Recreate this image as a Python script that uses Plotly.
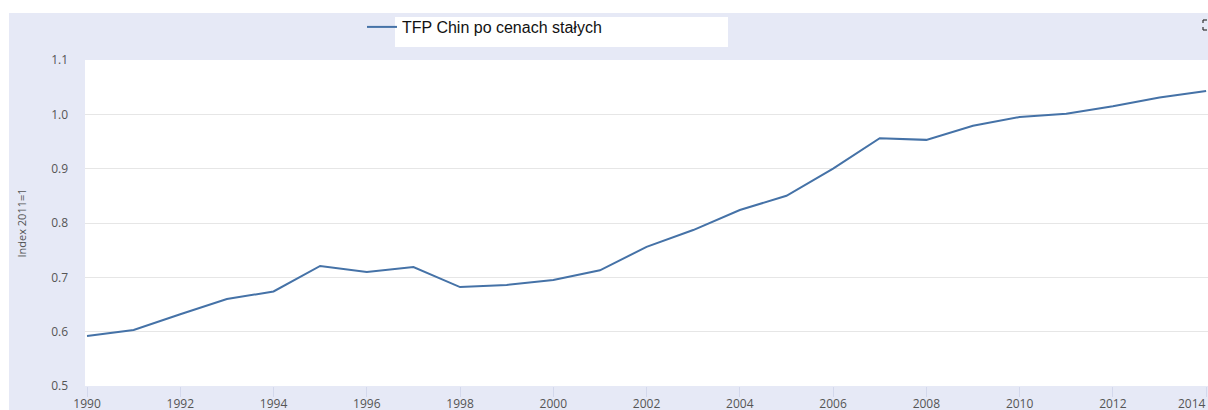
import plotly.graph_objects as go

years = list(range(1990, 2015))
tfp = [0.592, 0.603, 0.632, 0.660, 0.674, 0.721, 0.710, 0.719, 0.682, 0.686,
       0.695, 0.713, 0.756, 0.787, 0.824, 0.850, 0.900, 0.956, 0.953, 0.979,
       0.995, 1.001, 1.015, 1.031, 1.043]
series_name = "TFP Chin po cenach stałych"
y_title = "Index 2011=1"
x_ticks = years[::2]
y_ticks = [0.5, 0.6, 0.7, 0.8, 0.9, 1.0, 1.1]

W, H = 1208, 410
ML, MR, MT, MB = 85, 0, 60, 24
pw = W - ML - MR
ph = H - MT - MB

def px(X):
    return (X - ML) / pw

def py(Y):
    return (H - MB - Y) / ph

bg = "#E6E9F6"
tick_font = dict(family="Open Sans, sans-serif", size=12, color="#555555")

fig = go.Figure()
fig.add_trace(go.Scatter(x=years, y=tfp, mode="lines", name=series_name,
                         line=dict(color="#4572A7", width=2), showlegend=True))

def seg(x0, y0, x1, y1, color="#333333", w=1.2):
    return dict(type="line", xref="paper", yref="paper", x0=px(x0), y0=py(y0),
                x1=px(x1), y1=py(y1), line=dict(color=color, width=w))

shapes = [
    # white strip at the top and left edge
    dict(type="rect", xref="paper", yref="paper", x0=px(-5), x1=px(W + 5), y0=py(13), y1=py(-5),
         fillcolor="white", line=dict(width=0), layer="below"),
    dict(type="rect", xref="paper", yref="paper", x0=px(-5), x1=px(9), y0=py(H + 5), y1=py(-5),
         fillcolor="white", line=dict(width=0), layer="below"),
    # white legend label box
    dict(type="rect", xref="paper", yref="paper", x0=px(395), x1=px(728), y0=py(47), y1=py(17),
         fillcolor="white", line=dict(width=0), layer="below"),
    # tiny fullscreen icon at the top-right corner (partly cut off)
    seg(1203, 20, 1207, 20), seg(1203, 20, 1203, 23),
    seg(1203, 30, 1207, 30), seg(1203, 27, 1203, 30),
]

# last x tick label is pushed inside the chart (right-aligned to its tick)
last_tick = x_ticks[-1]
tick_text = [str(y) for y in x_ticks[:-1]] + [""]
annotations = [dict(x=last_tick, xref="x", y=py(H - 7), yref="paper", text=str(last_tick),
                    showarrow=False, xanchor="right", yanchor="middle", xshift=2,
                    font=tick_font)]

fig.update_layout(
    width=W, height=H,
    margin=dict(l=ML, r=MR, t=MT, b=MB, pad=0, autoexpand=False),
    paper_bgcolor=bg, plot_bgcolor="white",
    shapes=shapes, annotations=annotations,
    showlegend=True,
    legend=dict(x=px(362), xanchor="left", y=py(10), yanchor="top",
                bgcolor="rgba(0,0,0,0)", borderwidth=0,
                font=dict(family="Liberation Sans, Arial", size=16, color="#111111")),
    font=dict(family="Open Sans, sans-serif", size=12, color="#555555"),
    xaxis=dict(range=[1989.957, 2014.04], tickmode="array", tickvals=x_ticks,
               ticktext=tick_text, automargin=False,
               showgrid=False, zeroline=False, showline=False,
               ticks="outside", ticklen=10, tickcolor="#D3D8EC", tickwidth=1,
               ticklabelstandoff=-3, ticklabeloverflow="allow",
               tickfont=tick_font),
    yaxis=dict(range=[0.5, 1.1], tickmode="array", tickvals=y_ticks,
               ticktext=[f"{v:.1f}" for v in y_ticks], automargin=False,
               showgrid=True, gridcolor="#E6E6E6", gridwidth=1, zeroline=False, showline=False,
               ticks="", ticklabelstandoff=16,
               tickfont=tick_font,
               title=dict(text=y_title, font=dict(size=11, color="#555555"), standoff=22)),
)

fig.write_html("out.html",
               config={"displayModeBar": False},
               post_script="document.body.style.margin='0';document.body.style.overflow='hidden';"
                           "document.documentElement.style.overflow='hidden';")
